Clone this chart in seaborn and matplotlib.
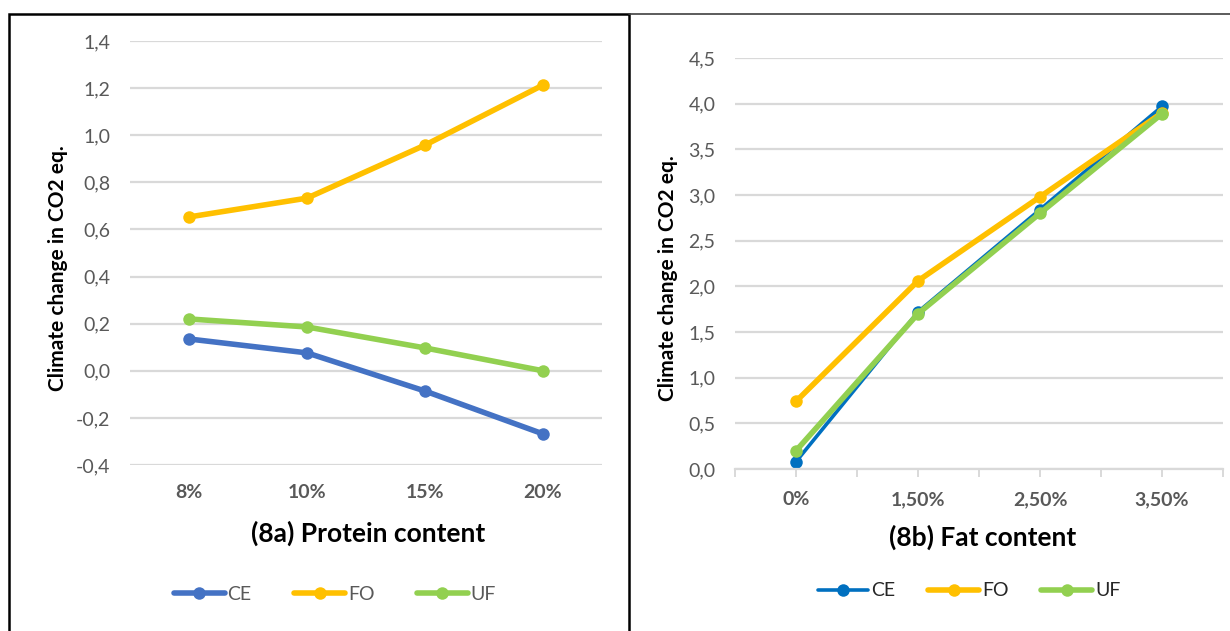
import pandas as pd
import matplotlib.pyplot as plt
import matplotlib.patches as mpatches
from matplotlib.lines import Line2D
import seaborn as sns

# Data
protein_levels = ['8%', '10%', '15%', '20%']
protein_ce = [0.135, 0.076, -0.086, -0.268]
protein_fo = [0.653, 0.733, 0.958, 1.213]
protein_uf = [0.220, 0.186, 0.097, 0.000]

fat_levels = ['0%', '1,50%', '2,50%', '3,50%']
fat_ce = [0.08, 1.72, 2.84, 3.97]
fat_fo = [0.74, 2.06, 2.98, 3.90]
fat_uf = [0.20, 1.70, 2.80, 3.89]

series = ['CE', 'FO', 'UF']
colors_a = {'CE': '#4472C4', 'FO': '#FFC000', 'UF': '#92D050'}
colors_b = {'CE': '#0070C0', 'FO': '#FFC000', 'UF': '#92D050'}


def long_form(levels, ce, fo, uf):
    rows = []
    for name, vals in zip(series, [ce, fo, uf]):
        for i, (lvl, v) in enumerate(zip(levels, vals)):
            rows.append({'pos': i, 'level': lvl, 'series': name, 'value': v})
    return pd.DataFrame(rows)


def comma(v, decimals):
    return f"{v:.{decimals}f}".replace('.', ',')


sns.set_theme(style='white')
plt.rcParams['font.family'] = ['Lato', 'DejaVu Sans']

fig = plt.figure(figsize=(12.3, 6.31), dpi=100)

gray = '#595959'
grid = '#D9D9D9'

# ---------- panel (8a) ----------
ax1 = fig.add_axes([130 / 1230, 1 - 465 / 631, 472 / 1230, 424 / 631])
df_a = long_form(protein_levels, protein_ce, protein_fo, protein_uf)
for name in series:
    sub = df_a[df_a['series'] == name]
    sns.lineplot(data=sub, x='pos', y='value', ax=ax1, color=colors_a[name],
                 linewidth=4.0, marker='o', markersize=9, markeredgewidth=0,
                 legend=False)
ax1.set_xlim(-0.5, 3.5)
ax1.set_ylim(-0.4, 1.4)
yt = [-0.4 + 0.2 * i for i in range(10)]
ax1.set_yticks(yt)
ax1.set_yticklabels([comma(v, 1) for v in yt], color=gray, fontsize=14)
ax1.set_xticks(range(4))
ax1.set_xticklabels(protein_levels, color=gray, fontsize=14, fontweight='bold')
ax1.tick_params(axis='x', length=0, pad=14)
ax1.tick_params(axis='y', length=0, pad=14)
ax1.grid(axis='y', color=grid, linewidth=1.6)
for s in ax1.spines.values():
    s.set_visible(False)
ax1.set_xlabel('')
ax1.set_ylabel('Climate change in CO2 eq.', fontsize=15, fontweight='bold',
               color='black')
ax1.yaxis.set_label_coords(-0.131, 0.465)

# ---------- panel (8b) ----------
ax2 = fig.add_axes([735 / 1230, 1 - 469 / 631, 488 / 1230, 411 / 631])
df_b = long_form(fat_levels, fat_ce, fat_fo, fat_uf)
widths_b = {'CE': 2.6, 'FO': 4.0, 'UF': 4.0}
for name in series:
    sub = df_b[df_b['series'] == name]
    sns.lineplot(data=sub, x='pos', y='value', ax=ax2, color=colors_b[name],
                 linewidth=widths_b[name], marker='o', markersize=9,
                 markeredgewidth=0, legend=False)
ax2.set_xlim(-0.5, 3.5)
ax2.set_ylim(0, 4.5)
yt2 = [0.5 * i for i in range(10)]
ax2.set_yticks(yt2)
ax2.set_yticklabels([comma(v, 1) for v in yt2], color=gray, fontsize=14)
ax2.set_xticks(range(4))
ax2.set_xticklabels(fat_levels, color=gray, fontsize=14, fontweight='bold')
ax2.set_xticks([-0.5, 0.5, 1.5, 2.5, 3.5], minor=True)
ax2.tick_params(axis='x', which='both', length=6, color=grid, width=1.4,
                pad=10, bottom=True)
ax2.tick_params(axis='y', length=0, pad=14)
ax2.grid(axis='y', color=grid, linewidth=1.6)
for s in ax2.spines.values():
    s.set_visible(False)
ax2.spines['bottom'].set_visible(True)
ax2.spines['bottom'].set_color(grid)
ax2.spines['bottom'].set_linewidth(1.6)
ax2.set_xlabel('')
ax2.set_ylabel('Climate change in CO2 eq.', fontsize=15, fontweight='bold',
               color='black')
ax2.yaxis.set_label_coords(-0.117, 0.465)

# ---------- titles ----------
fig.text(368 / 1230, 1 - 533 / 631, '(8a) Protein content', ha='center',
         va='center', fontsize=19, fontweight='bold', color='black')
fig.text(983 / 1230, 1 - 537 / 631, '(8b) Fat content', ha='center',
         va='center', fontsize=19, fontweight='bold', color='black')

# ---------- legends ----------
def handles(colors, widths):
    return [Line2D([0], [0], color=colors[n], lw=widths[n], marker='o',
                   markersize=9, markeredgewidth=0) for n in series]

leg1 = fig.legend(handles(colors_a, {'CE': 4.0, 'FO': 4.0, 'UF': 4.0}), series,
                  loc='center', bbox_to_anchor=(335 / 1230, 1 - 594 / 631),
                  ncol=3, frameon=False, fontsize=14, handlelength=2.6,
                  handletextpad=0.15, columnspacing=2.2)
for t in leg1.get_texts():
    t.set_color(gray)
leg2 = fig.legend(handles(colors_b, widths_b), series,
                  loc='center', bbox_to_anchor=(969 / 1230, 1 - 591 / 631),
                  ncol=3, frameon=False, fontsize=14, handlelength=2.6,
                  handletextpad=0.15, columnspacing=1.7)
for t in leg2.get_texts():
    t.set_color('#262626')

# ---------- frame lines ----------
fig.patches.append(mpatches.Rectangle((9 / 1230, -0.01), 620 / 1230,
                                      1 - 14 / 631 + 0.01,
                                      transform=fig.transFigure, fill=False,
                                      edgecolor='black', linewidth=1.8))
fig.add_artist(Line2D([629 / 1230, 1.0], [1 - 14 / 631, 1 - 14 / 631],
                      transform=fig.transFigure, color='#404040', linewidth=1.2))

fig.savefig('out.png', dpi=100)
